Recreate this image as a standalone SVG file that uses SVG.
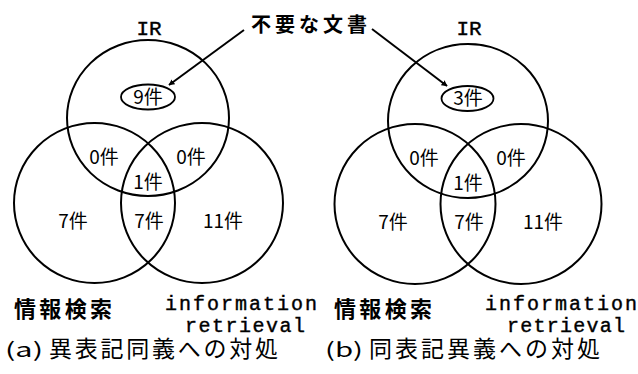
<svg xmlns="http://www.w3.org/2000/svg" width="638" height="374" viewBox="0 0 638 374">
<style>
.c{fill:none;stroke:#000;stroke-width:2}
.e{fill:none;stroke:#000;stroke-width:1.8}
.n{font-family:"Noto Sans CJK JP","Liberation Sans",sans-serif;font-size:19px;fill:#000;text-anchor:middle}
.m{font-family:"Liberation Mono","DejaVu Sans Mono",monospace;font-size:20px;fill:#000;stroke:#000;stroke-width:0.4}
.j{font-family:"Noto Sans CJK JP",sans-serif;font-size:22px;font-weight:bold;fill:#000}
.cap{font-family:"Noto Sans CJK JP","Liberation Sans",sans-serif;font-size:23px;fill:#000}
.ln{stroke:#000;stroke-width:2;fill:none}
</style>
<defs>
<marker id="ah" viewBox="0 0 10 10" refX="9" refY="5" markerWidth="6" markerHeight="6" orient="auto" markerUnits="userSpaceOnUse">
<path d="M0,0 L10,5 L0,10 z" fill="#000"/>
</marker>
</defs>
<rect width="638" height="374" fill="#fff"/>

<g id="diagram-a">
<g id="a-ir"><ellipse class="c" cx="148" cy="118" rx="81" ry="78"/><text class="m" x="149" y="35" text-anchor="middle" style="font-size:21px">IR</text></g>
<g id="a-joho"><ellipse class="c" cx="94.5" cy="203" rx="80.5" ry="80"/></g>
<g id="a-info"><ellipse class="c" cx="202" cy="203" rx="81" ry="80"/></g>
<g id="a-unneeded"><ellipse class="e" cx="148" cy="97" rx="27" ry="12.5"/><text class="n" x="148" y="104">9件</text></g>
<text class="n" x="104" y="164">0件</text>
<text class="n" x="191" y="164">0件</text>
<text class="n" x="148" y="189">1件</text>
<text class="n" x="73" y="228">7件</text>
<text class="n" x="149" y="228">7件</text>
<text class="n" x="223" y="228">11件</text>
<text class="j" x="14" y="317" textLength="98" lengthAdjust="spacing">情報検索</text>
<text class="m" x="165" y="310" textLength="152" lengthAdjust="spacing">information</text>
<text class="m" x="185" y="332" textLength="120" lengthAdjust="spacing">retrieval</text>
<text class="cap" x="5" y="357" textLength="38" lengthAdjust="spacingAndGlyphs" style="font-size:20px">(a)</text>
<text class="cap" x="49" y="357" textLength="229" lengthAdjust="spacing">異表記同義への対処</text>
</g>

<g id="diagram-b">
<g id="b-ir"><ellipse class="c" cx="468" cy="121" rx="80" ry="77"/><text class="m" x="469" y="35" text-anchor="middle" style="font-size:21px">IR</text></g>
<g id="b-joho"><ellipse class="c" cx="415" cy="204" rx="80.5" ry="80"/></g>
<g id="b-info"><ellipse class="c" cx="521" cy="204" rx="80.5" ry="80"/></g>
<g id="b-unneeded"><ellipse class="e" cx="467.5" cy="98.5" rx="26" ry="12.5"/><text class="n" x="468" y="105">3件</text></g>
<text class="n" x="424" y="165">0件</text>
<text class="n" x="511" y="165">0件</text>
<text class="n" x="468" y="190">1件</text>
<text class="n" x="393" y="229">7件</text>
<text class="n" x="469" y="229">7件</text>
<text class="n" x="543" y="229">11件</text>
<text class="j" x="334" y="317" textLength="98" lengthAdjust="spacing">情報検索</text>
<text class="m" x="485" y="310" textLength="152" lengthAdjust="spacing">information</text>
<text class="m" x="507" y="332" textLength="118" lengthAdjust="spacing">retrieval</text>
<text class="cap" x="325" y="357" textLength="38" lengthAdjust="spacingAndGlyphs" style="font-size:20px">(b)</text>
<text class="cap" x="369" y="357" textLength="231" lengthAdjust="spacing">同表記異義への対処</text>
</g>

<g id="label-unneeded"><text class="j" x="251" y="32" textLength="116" lengthAdjust="spacing" style="font-size:20px">不要な文書</text></g>

<g id="connectors">
<line class="ln" x1="244" y1="30" x2="169" y2="85" marker-end="url(#ah)"/>
<line class="ln" x1="372" y1="29" x2="447" y2="86" marker-end="url(#ah)"/>
</g>
</svg>
